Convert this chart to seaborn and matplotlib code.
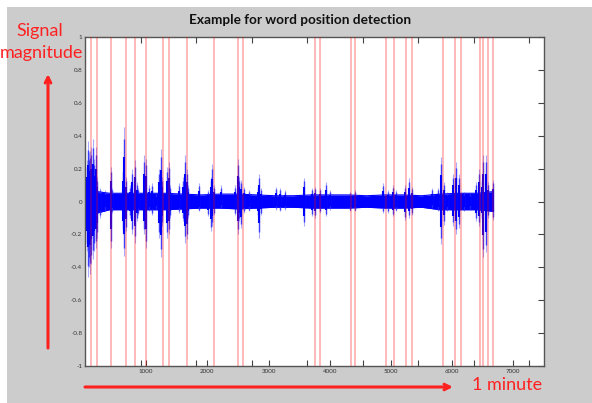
import numpy as np
import pandas as pd
import matplotlib
matplotlib.use("Agg")
import matplotlib.pyplot as plt
import seaborn as sns

# ===== data =====
# red detection lines (sample index)
word_pos = [90, 193, 428, 667, 820, 989, 1278, 1376, 1670, 2105, 2503, 2578,
            3755, 3843, 4350, 4404, 4926, 5046, 5253, 5351, 5853, 6042, 6147,
            6458, 6511, 6582, 6663]

# spikes of the signal: position, top, bottom
spike_x = [25, 41, 65, 74, 90, 123, 139, 172, 204, 253, 319, 417, 449, 613, 645,
           678, 743, 776, 809, 842, 874, 972, 997, 1038, 1087, 1168, 1217, 1245,
           1266, 1348, 1373, 1397, 1544, 1609, 1642, 1667, 1691, 1855, 2002, 2051,
           2083, 2116, 2230, 2443, 2497, 2524, 2552, 2606, 2672, 2819, 2840, 2868,
           3113, 3194, 3276, 3575, 3717, 3766, 3848, 3938, 4011, 4338, 4404, 4877,
           4943, 5025, 5074, 5221, 5286, 5335, 5678, 5776, 5820, 5858, 5907, 6005,
           6065, 6119, 6185, 6299, 6397, 6438, 6479, 6511, 6556, 6593, 6663]
spike_top = [0.25, 0.37, 0.30, 0.31, 0.33, 0.38, 0.26, 0.33, 0.15, 0.08, 0.07, 0.21,
             0.08, 0.21, 0.45, 0.15, 0.10, 0.20, 0.25, 0.12, 0.08, 0.28, 0.26, 0.10,
             0.11, 0.05, 0.20, 0.32, 0.15, 0.21, 0.24, 0.10, 0.11, 0.15, 0.28, 0.20,
             0.10, 0.11, 0.07, 0.15, 0.23, 0.10, 0.10, 0.10, 0.26, 0.15, 0.13, 0.09,
             0.07, 0.10, 0.17, 0.08, 0.09, 0.08, 0.07, 0.145, 0.08, 0.09, 0.08, 0.12,
             0.07, 0.06, 0.07, 0.11, 0.07, 0.10, 0.07, 0.10, 0.14, 0.09, 0.08, 0.08,
             0.27, 0.12, 0.06, 0.17, 0.24, 0.17, 0.06, 0.05, 0.12, 0.20, 0.15, 0.28,
             0.28, 0.12, 0.13]
spike_bot = [-0.30, -0.46, -0.40, -0.44, -0.38, -0.35, -0.30, -0.28, -0.22, -0.10,
             -0.06, -0.28, -0.07, -0.20, -0.33, -0.18, -0.10, -0.20, -0.25, -0.12,
             -0.08, -0.20, -0.28, -0.06, -0.08, -0.05, -0.22, -0.34, -0.15, -0.22,
             -0.20, -0.10, -0.07, -0.12, -0.25, -0.23, -0.10, -0.06, -0.09, -0.18,
             -0.15, -0.08, -0.04, -0.08, -0.20, -0.12, -0.16, -0.07, -0.06, -0.10,
             -0.22, -0.08, -0.05, -0.06, -0.05, -0.15, -0.09, -0.10, -0.07, -0.09,
             -0.05, -0.06, -0.06, -0.07, -0.07, -0.09, -0.06, -0.11, -0.10, -0.08,
             -0.04, -0.06, -0.26, -0.14, -0.06, -0.15, -0.20, -0.16, -0.06, -0.05,
             -0.12, -0.15, -0.12, -0.34, -0.31, -0.10, -0.11]

# dense noise band around zero
band_x = [0, 200, 400, 700, 1000, 1300, 1600, 1900, 2200, 2500, 2800, 3100, 3400,
          3700, 4000, 4300, 4600, 4900, 5200, 5500, 5800, 6100, 6400, 6670]
band_top = [0.07, 0.06, 0.05, 0.05, 0.05, 0.05, 0.045, 0.04, 0.045, 0.045, 0.04, 0.035,
            0.035, 0.04, 0.04, 0.04, 0.035, 0.04, 0.04, 0.035, 0.045, 0.05, 0.05, 0.06]
band_bot = [-0.08, -0.07, -0.05, -0.05, -0.05, -0.05, -0.045, -0.04, -0.04, -0.045, -0.04,
            -0.035, -0.035, -0.04, -0.04, -0.04, -0.035, -0.04, -0.04, -0.035, -0.05,
            -0.05, -0.05, -0.06]

y_ticks = [-1, -0.8, -0.6, -0.4, -0.2, 0, 0.2, 0.4, 0.6, 0.8, 1]
y_labels = ["-1", "-0.8", "-0.6", "-0.4", "-0.2", "0", "0.2", "0.4", "0.6", "0.8", "1"]
x_ticks = [1000, 2000, 3000, 4000, 5000, 6000, 7000]

sns.set_style("white")
plt.rcParams['font.family'] = ['Lato', 'DejaVu Sans']

fig = plt.figure(figsize=(5.92, 4.03), dpi=100)
fig.patch.set_facecolor("white")
# grey matlab-like figure background
fig.add_artist(plt.Rectangle((7 / 592, 0), 1, 1 - 7 / 403, transform=fig.transFigure,
                             facecolor="#cccccc", edgecolor="none", zorder=-10))

ax = fig.add_axes([85 / 592, 37 / 403, 459 / 592, 329 / 403])
ax.set_facecolor("white")

band = pd.DataFrame({"x": band_x, "top": band_top, "bot": band_bot})
ax.fill_between(band["x"], band["bot"], band["top"], color="blue", lw=0, zorder=2)
sns.lineplot(data=band, x="x", y="top", color="blue", lw=0.8, ax=ax, zorder=2)
sns.lineplot(data=band, x="x", y="bot", color="blue", lw=0.8, ax=ax, zorder=2)

# spikes: pale thin tips, solid body
top = np.array(spike_top)
bot = np.array(spike_bot)
ax.vlines(spike_x, bot, top, color="#4444ff", lw=0.8, alpha=0.45, zorder=3)
ax.vlines(spike_x, bot * 0.85, top * 0.85, color="#2222ff", lw=1.0, alpha=0.8, zorder=3)
ax.vlines(spike_x, bot * 0.6, top * 0.6, color="blue", lw=1.5, zorder=3)

for p in word_pos:
    ax.axvline(p, color="red", lw=1.2, alpha=0.32, zorder=4)

ax.set_xlim(0, 7500)
ax.set_ylim(-1, 1)
ax.set_xticks(x_ticks)
ax.set_xticklabels([str(t) for t in x_ticks])
ax.set_yticks(y_ticks)
ax.set_yticklabels(y_labels)
ax.set_xlabel("")
ax.set_ylabel("")
ax.tick_params(direction="in", length=4, width=0.8, color="#444444", labelsize=4.5,
               labelcolor="#333333", top=True, right=True, pad=2)
for s in ax.spines.values():
    s.set_color("#555555")
    s.set_linewidth(1.0)

# second (unlabelled) axis whose ticks show through
ax2 = ax.twiny()
ax2.set_xlim(0, 8264)
ax2.set_xticks([1000, 2000, 3000, 4000, 5000, 6000, 7000, 8000])
ax2.set_xticklabels([])
ax2.tick_params(direction="in", length=4, width=0.8, color="#444444", top=True, bottom=True)
for s in ax2.spines.values():
    s.set_visible(False)

fig.text(300 / 592, 1 - 20 / 403, "Example for word position detection",
         ha="center", va="center", fontsize=9.8, fontweight="bold", color="#111111")

# annotations
fig.text(40 / 592, 1 - 31 / 403, "Signal", ha="center", va="center", fontsize=13, color="#ff2020")
fig.text(41 / 592, 1 - 53 / 403, "magnitude", ha="center", va="center", fontsize=13, color="#ff2020")
fig.text(507 / 592, 1 - 385 / 403, "1 minute", ha="center", va="center", fontsize=13, color="#ff2020")

ax.annotate("", xy=(48, 403 - 74), xytext=(48, 403 - 348), xycoords="figure pixels",
            textcoords="figure pixels",
            arrowprops=dict(arrowstyle="->", color="#ff2020", lw=2.2, mutation_scale=10,
                            shrinkA=0, shrinkB=0))
ax.annotate("", xy=(453, 403 - 387), xytext=(85, 403 - 387), xycoords="figure pixels",
            textcoords="figure pixels",
            arrowprops=dict(arrowstyle="->", color="#ff2020", lw=2.2, mutation_scale=10,
                            shrinkA=0, shrinkB=0))

fig.savefig("out.png", dpi=100)
